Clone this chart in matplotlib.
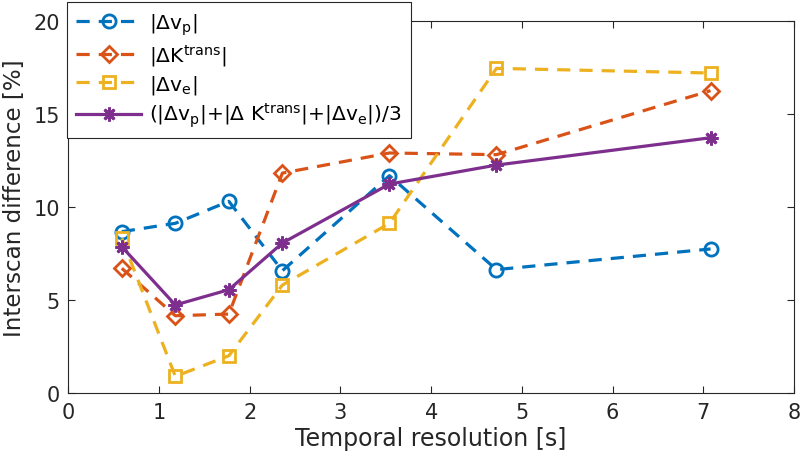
import matplotlib
matplotlib.use("Agg")
import matplotlib.pyplot as plt

# Data
t_res = [0.59, 1.18, 1.77, 2.36, 3.54, 4.72, 7.08]
dvp = [8.69, 9.14, 10.32, 6.59, 11.70, 6.65, 7.76]
dktrans = [6.72, 4.17, 4.26, 11.84, 12.92, 12.83, 16.27]
dve = [8.33, 0.91, 2.02, 5.82, 9.14, 17.47, 17.22]
avg = [7.88, 4.75, 5.57, 8.08, 11.25, 12.27, 13.74]
xticks = [0, 1, 2, 3, 4, 5, 6, 7, 8]
yticks = [0, 5, 10, 15, 20]

plt.rcParams['font.family'] = ['DejaVu Sans']
plt.rcParams['mathtext.default'] = 'regular'
plt.rcParams['lines.scale_dashes'] = False

c_blue = '#0072BD'
c_orange = '#D95319'
c_yellow = '#EDB120'
c_purple = '#7E2F8E'

fig = plt.figure(figsize=(8, 4.6), dpi=100)
ax = fig.add_axes([68.3/800, 1-394.3/460, (794-68.3)/800, (394.3-22.3)/460])

lw = 2.3
dash = (9.5, 6.5)
ax.plot(t_res, dvp, color=c_blue, lw=lw, ls='--', dashes=dash, marker='o', ms=9.5,
        mfc='none', mew=2.0, label=r'$|\Delta v_p|$')
ax.plot(t_res, dktrans, color=c_orange, lw=lw, ls='--', dashes=dash, marker='D', ms=8,
        mfc='none', mew=2.0, label=r'$|\Delta K^{trans}|$')
ax.plot(t_res, dve, color=c_yellow, lw=lw, ls='--', dashes=dash, marker='s', ms=8.5,
        mfc='none', mew=2.0, label=r'$|\Delta v_e|$')
ax.plot(t_res, avg, color=c_purple, lw=lw, ls='-', marker=(8, 2, 0), ms=10,
        mew=2.0, label=r'$(|\Delta v_p|{+}|\Delta\ K^{trans}|{+}|\Delta v_e|)/3$')

ax.set_xlim(0, 8)
ax.set_ylim(0, 20)
ax.set_xticks(xticks)
ax.set_yticks(yticks)
ax.tick_params(direction='in', top=True, right=True, length=5, width=0.8,
               colors='#262626', labelsize=15, labelcolor='#262626', pad=6)
for s in ax.spines.values():
    s.set_color('#262626')
    s.set_linewidth(0.8)

ax.set_xlabel('Temporal resolution [s]', fontsize=17, color='#262626', labelpad=3)
ax.set_ylabel('Interscan difference [%]', fontsize=16.6, color='#262626')
ax.yaxis.set_label_coords(-0.058, 0.528)

leg = ax.legend(loc='upper left', bbox_to_anchor=(67/800, 1-3/460),
                bbox_transform=fig.transFigure, borderaxespad=0, fontsize=14.6,
                handlelength=3.2, fancybox=False, framealpha=1,
                edgecolor='#262626', labelspacing=0.25, handletextpad=0.4,
                borderpad=0.45)
leg.get_frame().set_linewidth(0.8)

fig.savefig('out.png', dpi=100)
